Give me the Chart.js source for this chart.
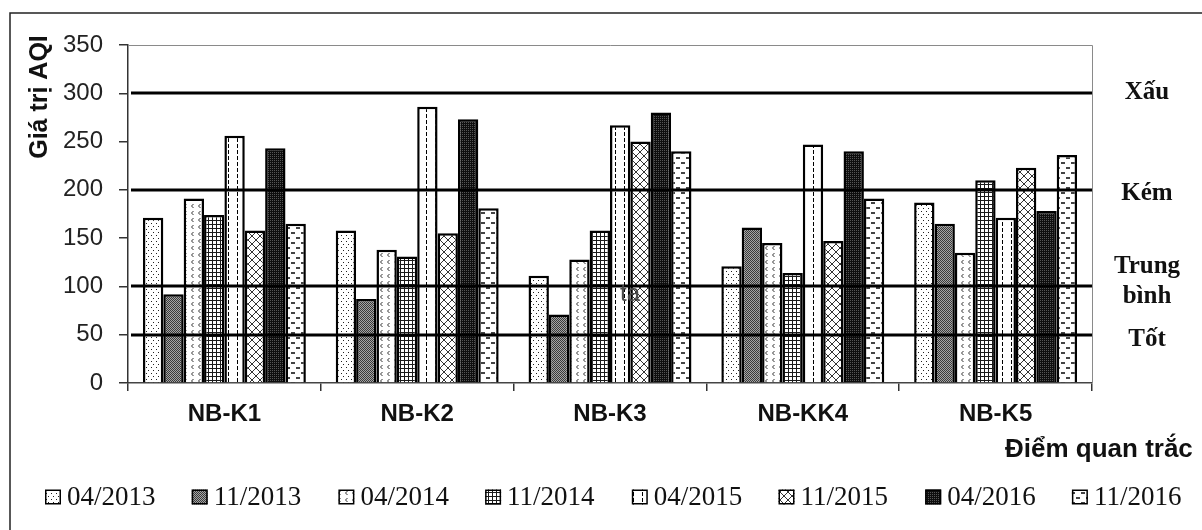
<!DOCTYPE html>
<html>
<head>
<meta charset="utf-8">
<script src="https://cdn.jsdelivr.net/npm/chart.js@4.4.1/dist/chart.umd.min.js"></script>
<style>
  html, body { margin: 0; padding: 0; background: #fff; }
  #wrap { width: 1202px; height: 530px; }
</style>
</head>
<body>
<div id="wrap"><canvas id="c" width="1202" height="530"></canvas></div>
<script>
// Monitoring stations and sampling campaigns
const stations = ['NB-K1', 'NB-K2', 'NB-K3', 'NB-KK4', 'NB-K5'];
const periods = ['04/2013', '11/2013', '04/2014', '11/2014', '04/2015', '11/2015', '04/2016', '11/2016'];

// AQI per station, one array per campaign
const aqi_2013_04 = [171, 158, 111, 121, 187];
const aqi_2013_11 = [92, 87, 71, 161, 165];
const aqi_2014_04 = [191, 138, 128, 145, 135];
const aqi_2014_11 = [174, 131, 158, 114, 210];
const aqi_2015_04 = [256, 286, 267, 247, 171];
const aqi_2015_11 = [158, 155, 250, 147, 223];
const aqi_2016_04 = [243, 273, 280, 240, 178];
const aqi_2016_11 = [165, 181, 240, 191, 236];

// AQI class thresholds and their names
const levelValues = [300, 200, 100, 50];
const levelNames = ['Xấu', 'Kém', 'Trung bình', 'Tốt'];

const yMin = 0, yMax = 350, yStep = 50;
const yTitle = 'Giá trị AQI';
const xTitle = 'Điểm quan trắc';
const note = 'ta';

const SANS = '"Liberation Sans", Arial, sans-serif';
const SERIF = '"Liberation Serif", "Times New Roman", serif';

const canvas = document.getElementById('c');
const ctx = canvas.getContext('2d');

// Monochrome hatch fills for the bars
function makePattern(w, h, base, draw) {
  const c = document.createElement('canvas');
  c.width = w; c.height = h;
  const g = c.getContext('2d');
  g.fillStyle = base; g.fillRect(0, 0, w, h);
  draw(g);
  return ctx.createPattern(c, 'repeat');
}
const fills = [
  // sparse dots
  makePattern(5, 6, '#fff', g => { g.fillStyle = '#222'; g.fillRect(1, 1, 1, 1); g.fillRect(3, 4, 1, 1); }),
  // grey fine checker
  makePattern(2, 2, '#a5a5a5', g => { g.fillStyle = '#3a3a3a'; g.fillRect(0, 0, 1, 1); g.fillRect(1, 1, 1, 1); }),
  // small arrowheads
  makePattern(7, 7, '#fff', g => { g.strokeStyle = '#333'; g.lineWidth = 1; g.beginPath(); g.moveTo(4.5, 1); g.lineTo(2.5, 3); g.lineTo(4.5, 5); g.stroke(); }),
  // square grid
  makePattern(4, 4, '#fff', g => { g.fillStyle = '#1a1a1a'; g.fillRect(0, 0, 4, 1); g.fillRect(0, 0, 1, 4); }),
  // vertical dashes
  makePattern(9, 6, '#fff', g => { g.fillStyle = '#000'; g.fillRect(3, 0, 1, 4); }),
  // diagonal cross-hatch
  makePattern(8, 8, '#fff', g => { g.strokeStyle = '#333'; g.lineWidth = 1; g.beginPath(); g.moveTo(0, 0); g.lineTo(8, 8); g.moveTo(8, 0); g.lineTo(0, 8); g.stroke(); }),
  // dark fine dots
  makePattern(2, 2, '#0e0e0e', g => { g.fillStyle = '#555'; g.fillRect(0, 0, 1, 1); }),
  // horizontal dashes
  makePattern(10, 10, '#fff', g => { g.fillStyle = '#444'; g.fillRect(1, 2, 4, 2); g.fillRect(6, 7, 4, 2); })
];

const series = [aqi_2013_04, aqi_2013_11, aqi_2014_04, aqi_2014_11, aqi_2015_04, aqi_2015_11, aqi_2016_04, aqi_2016_11];

const datasets = series.map((values, i) => ({
  label: periods[i],
  data: values,
  backgroundColor: fills[i],
  borderColor: '#000',
  borderWidth: 2.5,
  categoryPercentage: 0.845,
  barPercentage: 1.0,
  yAxisID: 'y'
}));

// Frame, threshold lines, class names, titles and the legend row
const decorations = {
  id: 'decorations',
  beforeDraw(chart) {
    const c = chart.ctx;
    c.save();
    c.fillStyle = '#fff';
    c.fillRect(0, 0, chart.width, chart.height);
    c.strokeStyle = '#222';
    c.lineWidth = 1.5;
    c.beginPath();
    c.moveTo(10, chart.height + 5);
    c.lineTo(10, 13);
    c.lineTo(chart.width + 5, 13);
    c.stroke();
    c.restore();
  },
  afterDatasetsDraw(chart) {
    const c = chart.ctx;
    const a = chart.chartArea;
    const y = chart.scales.y;
    c.save();
    // thin box on the top and right of the plot
    c.strokeStyle = '#8a8a8a';
    c.lineWidth = 1;
    c.beginPath();
    c.moveTo(a.left, a.top + 0.5);
    c.lineTo(a.right + 0.5, a.top + 0.5);
    c.lineTo(a.right + 0.5, a.bottom);
    c.stroke();
    // class threshold lines
    c.strokeStyle = '#000';
    c.lineWidth = 3;
    levelValues.forEach(v => {
      const py = Math.round(y.getPixelForValue(v));
      c.beginPath();
      c.moveTo(a.left + 3, py);
      c.lineTo(a.right, py);
      c.stroke();
    });
    // small annotation inside the plot
    c.fillStyle = '#4a4a4a';
    c.font = '24px ' + SANS;
    c.textAlign = 'center';
    c.textBaseline = 'middle';
    c.fillText(note, 630, y.getPixelForValue(92));
    c.restore();
  },
  afterDraw(chart) {
    const c = chart.ctx;
    const a = chart.chartArea;
    const y = chart.scales.y;
    c.save();

    // class names right of the plot
    c.fillStyle = '#111';
    c.font = 'bold 25px ' + SERIF;
    c.textAlign = 'center';
    c.textBaseline = 'alphabetic';
    const cx = a.right + 55;
    const baseOffsets = [6, 10, null, 11];
    levelNames.forEach((name, i) => {
      const py = y.getPixelForValue(levelValues[i]);
      if (name.indexOf(' ') > 0) {
        const parts = name.split(' ');
        c.fillText(parts[0], cx, py - 13);
        c.fillText(parts[1], cx, py + 17);
      } else {
        c.fillText(name, cx, py + baseOffsets[i]);
      }
    });

    // y axis title, rotated
    c.font = 'bold 25px ' + SANS;
    c.fillStyle = '#111';
    c.save();
    c.translate(47, 97);
    c.rotate(-Math.PI / 2);
    c.textAlign = 'center';
    c.textBaseline = 'alphabetic';
    c.fillText(yTitle, 0, 0);
    c.restore();

    // x axis title
    c.font = 'bold 26px ' + SANS;
    c.textAlign = 'left';
    c.textBaseline = 'alphabetic';
    c.fillText(xTitle, 1005, 457);

    // legend row
    c.font = '27px ' + SERIF;
    c.textBaseline = 'middle';
    chart.data.datasets.forEach((ds, i) => {
      const x = 45 + i * 146.7;
      const cy = 497;
      c.fillStyle = ds.backgroundColor;
      c.fillRect(x, cy - 7.5, 16, 15);
      c.strokeStyle = '#000';
      c.lineWidth = 1.5;
      c.strokeRect(x + 0.75, cy - 6.75, 14.5, 13.5);
      c.fillStyle = '#111';
      c.fillText(ds.label, x + 22, cy + 1);
    });
    c.restore();
  }
};

new Chart(canvas, {
  type: 'bar',
  data: { labels: stations, datasets },
  options: {
    responsive: false,
    animation: false,
    devicePixelRatio: 1,
    layout: { padding: { left: 20, right: 0, top: 45, bottom: 0 } },
    plugins: {
      legend: { display: false },
      tooltip: { enabled: false }
    },
    scales: {
      x: {
        grid: { offset: true, drawOnChartArea: false, tickLength: 8, color: '#333', lineWidth: 1.5 },
        border: { color: '#444', width: 1.5 },
        ticks: { font: { family: SANS, size: 24, weight: 'bold' }, color: '#111', padding: 9 },
        afterFit(s) { s.height = 147; }
      },
      y: {
        min: yMin, max: yMax,
        ticks: { stepSize: yStep, font: { family: SANS, size: 24 }, color: '#222', padding: 16 },
        grid: { drawOnChartArea: false, tickLength: 9, color: '#333', lineWidth: 1.5 },
        border: { color: '#333', width: 1.5 },
        afterFit(s) { s.width = 108; }
      },
      yR: {
        position: 'right',
        min: yMin, max: yMax,
        grid: { display: false },
        ticks: { display: false },
        border: { display: false },
        afterFit(s) { s.width = 110; }
      }
    }
  },
  plugins: [decorations]
});
</script>
</body>
</html>
